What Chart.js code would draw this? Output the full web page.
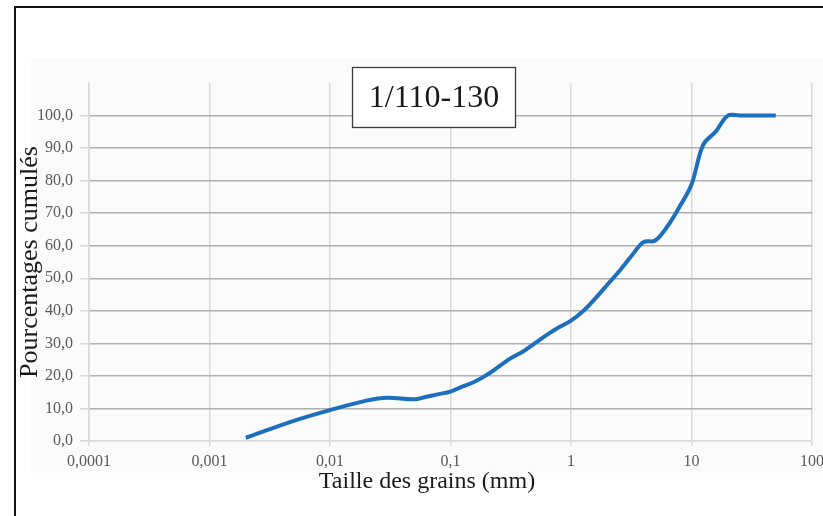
<!DOCTYPE html>
<html>
<head>
<meta charset="utf-8">
<script src="https://cdn.jsdelivr.net/npm/chart.js@4"></script>
<style>
  html, body { margin: 0; padding: 0; background: #fff; }
  #wrap { position: absolute; left: 0; top: 0; width: 823px; height: 516px; }
</style>
</head>
<body>
<div id="wrap"><canvas id="plots" width="823" height="516"></canvas></div>
<script>
// Granulometric curve: sieve size (mm) vs cumulated percentage
var sizes = [0.002, 0.005, 0.01, 0.02, 0.03, 0.05, 0.063, 0.08, 0.1, 0.125, 0.16, 0.2,
             0.315, 0.4, 0.5, 0.63, 0.8, 1, 1.25, 1.6, 2, 2.5, 3.15, 4, 5, 6.3, 8, 10,
             12.5, 16, 20, 25, 31.5, 40, 50];
var cumul = [1.0, 6.2, 9.5, 12.4, 13.3, 12.8, 13.6, 14.4, 15.2, 16.7, 18.3, 20.3,
             25.4, 27.5, 30.0, 32.6, 35.0, 37.0, 39.8, 43.9, 48.0, 52.1, 56.7, 61.1, 61.6, 65.9, 72.1, 78.8,
             91.0, 95.2, 100, 100, 100, 100, 100];
var xTicks = [0.0001, 0.001, 0.01, 0.1, 1, 10, 100];
var chartTitle = "1/110-130";
var xTitle = "Taille des grains (mm)";
var yTitle = "Pourcentages cumulés";

var points = sizes.map(function (s, i) { return { x: s, y: cumul[i] }; });

var serif = "'Liberation Serif', 'Times New Roman', serif";

// frame, faint plot background, boxed title and x axis title
var decor = {
  id: 'decor',
  beforeDraw: function (chart) {
    var ctx = chart.ctx;
    ctx.save();
    ctx.fillStyle = '#fbfbfb';
    ctx.fillRect(31, 58, 792, 415);
    ctx.fillStyle = '#111';
    ctx.fillRect(14, 6, 2, 510);
    ctx.fillRect(14, 6, 809, 2);
    ctx.restore();
  },
  afterDraw: function (chart) {
    var ctx = chart.ctx;
    ctx.save();
    ctx.fillStyle = '#fff';
    ctx.fillRect(352, 67, 164, 61);
    ctx.strokeStyle = '#3a3a3a';
    ctx.lineWidth = 1.3;
    ctx.strokeRect(352.5, 67.5, 163, 60);
    ctx.fillStyle = '#1a1a1a';
    ctx.font = "32px " + serif;
    ctx.textAlign = 'center';
    ctx.textBaseline = 'middle';
    ctx.fillText(chartTitle, 434, 99);
    ctx.font = "24px " + serif;
    ctx.fillText(xTitle, 427, 482);
    ctx.restore();
  }
};

new Chart(document.getElementById("plots"), {
  type: 'scatter',
  data: {
    datasets: [{
      data: points,
      showLine: true,
      borderColor: '#1c6fbc',
      borderWidth: 4,
      pointRadius: 0,
      tension: 0.35,
      fill: false
    }]
  },
  plugins: [decor],
  options: {
    responsive: false,
    animation: false,
    layout: { padding: { top: 83, right: 11, left: 0, bottom: 0 } },
    plugins: { legend: { display: false }, tooltip: { enabled: false } },
    scales: {
      x: {
        type: 'logarithmic',
        min: 0.0001,
        max: 100,
        afterBuildTicks: function (scale) {
          scale.ticks = xTicks.map(function (v) { return { value: v }; });
        },
        afterFit: function (scale) {
          scale.height = 75;
          scale.paddingLeft = 0;
          scale.paddingRight = 0;
        },
        ticks: {
          autoSkip: false,
          maxRotation: 0,
          padding: 6,
          color: '#595959',
          font: { family: serif, size: 16 },
          callback: function (v) { return String(v).replace('.', ','); }
        },
        grid: { color: '#d9d9d9', lineWidth: 1.5, tickLength: 5, tickColor: '#d9d9d9' },
        border: { color: '#d9d9d9', width: 1.5 }
      },
      y: {
        min: 0,
        max: 110,
        afterFit: function (scale) { scale.width = 89; },
        ticks: {
          stepSize: 10,
          padding: 7,
          color: '#595959',
          font: { family: serif, size: 16 },
          callback: function (v) { return v > 100 ? '' : v.toFixed(1).replace('.', ','); }
        },
        grid: {
          color: function (c) {
            if (c.tick.value > 100) return 'rgba(0,0,0,0)';
            if (c.tick.value === 0) return '#d9d9d9';
            return '#b0b0b0';
          },
          lineWidth: 1.5,
          tickLength: 9,
          tickColor: function (c) { return c.tick.value > 100 ? 'rgba(0,0,0,0)' : '#d9d9d9'; }
        },
        border: { color: '#d9d9d9', width: 1.5 },
        title: {
          display: true,
          text: yTitle,
          color: '#1a1a1a',
          font: { family: serif, size: 26 },
          padding: { top: 15, bottom: 0 }
        }
      }
    }
  }
});
</script>
</body>
</html>
